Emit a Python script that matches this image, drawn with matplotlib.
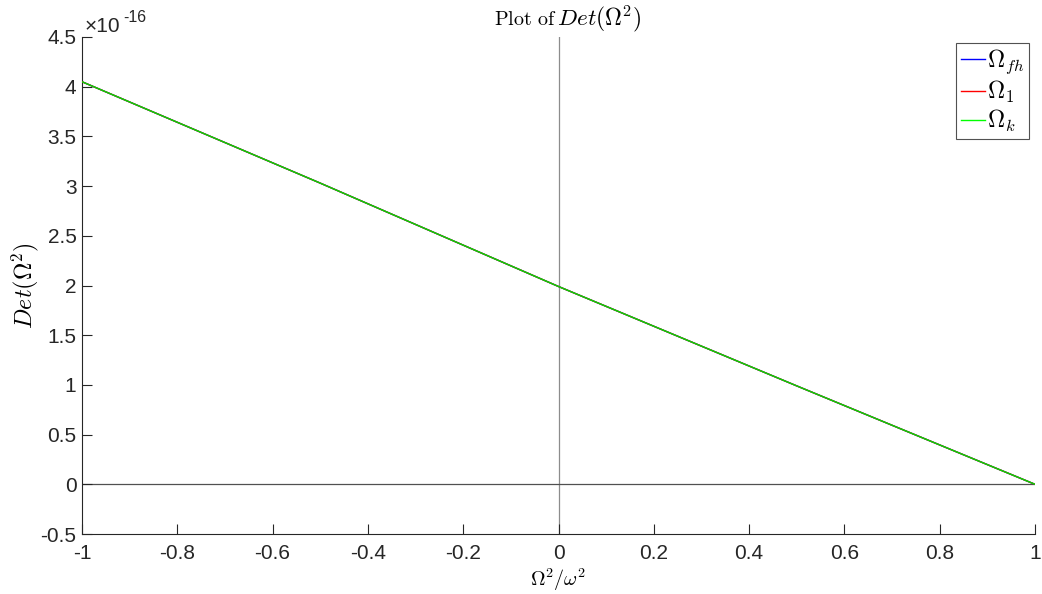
import matplotlib
matplotlib.use("Agg")
import matplotlib.pyplot as plt

plt.rcParams['font.family'] = ['Liberation Sans', 'DejaVu Sans']
plt.rcParams['mathtext.fontset'] = 'cm'

# Data (values in units of 1e-16)
x_vals = [-1.0, -0.5, 0.0, 0.5, 1.0]
det_fh = [4.05, 3.03, 1.99, 0.99, 0.0]
det_1 = [4.05, 3.03, 1.99, 0.99, 0.0]
det_k = [4.05, 3.03, 1.99, 0.99, 0.0]
xticks = [-1, -0.8, -0.6, -0.4, -0.2, 0, 0.2, 0.4, 0.6, 0.8, 1]
yticks = [-0.5, 0, 0.5, 1, 1.5, 2, 2.5, 3, 3.5, 4, 4.5]

W, H = 1042, 594
fig = plt.figure(figsize=(W/100, H/100), dpi=100)
ax = fig.add_axes([82/W, 1-534/H, (1035-82)/W, (534-37)/H])

ax.axvline(0, color='#8c8c8c', lw=0.9, zorder=1)
ax.axhline(0, color='#505050', lw=0.9, zorder=1)
ax.plot(x_vals, det_fh, color='#0000ff', lw=1.0, label=r'$\Omega_{fh}$', zorder=2)
ax.plot(x_vals, det_1, color='#ff0000', lw=1.0, label=r'$\Omega_1$', zorder=3)
ax.plot(x_vals, det_k, color='#00dd00', lw=1.0, label=r'$\Omega_k$', zorder=4)

ax.set_xlim(-1, 1)
ax.set_ylim(-0.5, 4.5)
ax.set_xticks(xticks)
ax.set_xticklabels([('%g' % t) for t in xticks])
ax.set_yticks(yticks)
ax.set_yticklabels([('%g' % t) for t in yticks])
ax.tick_params(direction='in', length=7, width=0.8, labelsize=15, colors='#262626')
ax.tick_params(axis='x', pad=7.5)
ax.tick_params(axis='y', pad=4)
for s in ['top', 'right']:
    ax.spines[s].set_visible(False)
for s in ['left', 'bottom']:
    ax.spines[s].set_color('#262626')
    ax.spines[s].set_linewidth(0.8)

# exponent label
fig.text(85/W, 1-32/H, '\u00d710', fontsize=15, ha='left', va='baseline', color='#262626')
fig.text(123/W, 1-22/H, '-16', fontsize=11.5, ha='left', va='baseline', color='#262626')

# title in two parts
fig.text(494/W, 1-25/H, r'$\mathrm{Plot\ of}$', fontsize=14.5, ha='left', va='baseline')
fig.text(557/W, 1-25/H, r'$Det(\Omega^2)$', fontsize=16.8, ha='left', va='baseline')

ax.set_xlabel(r'$\Omega^2/\omega^2$', fontsize=14.5, va='bottom')
ax.xaxis.set_label_coords(0.5, (534-593)/497)
ax.set_ylabel(r'$Det(\Omega^2)$', fontsize=17.3)
ax.yaxis.set_label_coords((41-82)/953, 0.5)

leg = ax.legend(loc='upper right', bbox_to_anchor=((1029-82)/953, (534-43)/497), fontsize=17,
                frameon=True, fancybox=False, edgecolor='#262626', handlelength=1.0,
                handletextpad=0.1, borderpad=0.2, labelspacing=0.12, borderaxespad=0)
leg.get_frame().set_linewidth(0.8)
for ln, c in zip(leg.get_lines(), ['#0000ff', '#ff0000', '#00ff00']):
    ln.set_color(c)

fig.savefig('out.png', dpi=100)
